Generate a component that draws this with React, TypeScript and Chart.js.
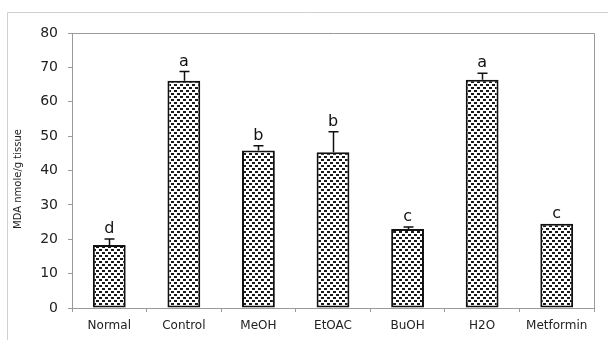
import React, { useEffect, useRef } from 'react';
import { Chart, registerables } from 'chart.js';

Chart.register(...registerables);

const categories = ['Normal', 'Control', 'MeOH', 'EtOAC', 'BuOH', 'H2O', 'Metformin'];
const means = [18.3, 66.1, 45.8, 45.3, 23.0, 66.4, 24.5];
const errors = [1.8, 2.7, 1.4, 6.0, 0.6, 1.9, 0];
const letters = ['d', 'a', 'b', 'b', 'c', 'a', 'c'];
const yTitle = 'MDA nmole/g tissue';

const FONT = "'DejaVu Sans', sans-serif";

function makePattern(): CanvasPattern | string {
  const c = document.createElement('canvas');
  c.width = 6;
  c.height = 6;
  const x = c.getContext('2d');
  if (!x) return '#888';
  x.fillStyle = '#ffffff';
  x.fillRect(0, 0, 6, 6);
  x.fillStyle = '#1a1a1a';
  x.fillRect(0, 0, 3, 2);
  x.fillRect(3, 3, 3, 2);
  const ctx = document.createElement('canvas').getContext('2d');
  const p = ctx ? ctx.createPattern(c, 'repeat') : null;
  return p || '#888';
}

const framePlugin = {
  id: 'frame',
  beforeDraw(chart: any) {
    const { ctx } = chart;
    ctx.save();
    ctx.fillStyle = '#ffffff';
    ctx.fillRect(0, 0, chart.width, chart.height);
    ctx.strokeStyle = '#d0d0d0';
    ctx.lineWidth = 1;
    ctx.beginPath();
    ctx.moveTo(7.5, chart.height);
    ctx.lineTo(7.5, 12.5);
    ctx.lineTo(chart.width, 12.5);
    ctx.stroke();
    ctx.restore();
  },
  afterDraw(chart: any) {
    const { ctx, chartArea } = chart;
    ctx.save();
    ctx.strokeStyle = '#9a9a9a';
    ctx.lineWidth = 1;
    ctx.beginPath();
    ctx.moveTo(Math.round(chartArea.left) + 0.5, Math.round(chartArea.top) + 0.5);
    ctx.lineTo(Math.round(chartArea.right) + 0.5, Math.round(chartArea.top) + 0.5);
    ctx.lineTo(Math.round(chartArea.right) + 0.5, Math.round(chartArea.bottom) + 0.5);
    ctx.stroke();
    // y title
    ctx.translate(18, 179);
    ctx.rotate(-Math.PI / 2);
    ctx.fillStyle = '#222';
    ctx.font = `10px ${FONT}`;
    ctx.textAlign = 'center';
    ctx.textBaseline = 'middle';
    ctx.fillText(yTitle, 0, 0);
    ctx.restore();
  },
};

const errorPlugin = {
  id: 'errbars',
  afterDatasetsDraw(chart: any) {
    const { ctx } = chart;
    const meta = chart.getDatasetMeta(0);
    const y = chart.scales.y;
    ctx.save();
    meta.data.forEach((bar: any, i: number) => {
      const x = Math.round(bar.x) + 0.5;
      const top = y.getPixelForValue(means[i] + errors[i]);
      const base = y.getPixelForValue(means[i]);
      if (errors[i] > 0) {
        ctx.strokeStyle = '#111';
        ctx.lineWidth = 1.5;
        ctx.beginPath();
        ctx.moveTo(x, base);
        ctx.lineTo(x, top);
        ctx.moveTo(x - 5, top);
        ctx.lineTo(x + 5, top);
        ctx.stroke();
      }
      ctx.fillStyle = '#111';
      ctx.font = `16px ${FONT}`;
      ctx.textAlign = 'center';
      ctx.textBaseline = 'alphabetic';
      ctx.fillText(letters[i], bar.x, top - 6);
    });
    ctx.restore();
  },
};

export default function App() {
  const ref = useRef<HTMLCanvasElement | null>(null);
  useEffect(() => {
    if (!ref.current) return;
    const pattern = makePattern();
    const chart = new Chart(ref.current, {
      type: 'bar',
      data: {
        labels: categories,
        datasets: [
          {
            data: means,
            backgroundColor: pattern as any,
            borderColor: '#111',
            borderWidth: 2,
            borderSkipped: false,
            categoryPercentage: 1,
            barPercentage: 0.44,
          },
        ],
      },
      options: {
        responsive: false,
        animation: false,
        events: [],
        layout: { padding: { top: 33, right: 14, left: 0, bottom: 0 } },
        plugins: { legend: { display: false }, tooltip: { enabled: false } },
        scales: {
          x: {
            grid: {
              display: true,
              drawOnChartArea: false,
              drawTicks: true,
              tickLength: 4,
              color: '#9a9a9a',
              offset: true,
            },
            border: { color: '#9a9a9a', width: 1 },
            ticks: { color: '#222', font: { family: FONT, size: 12 }, padding: 7, maxRotation: 0 },
            afterFit(scale: any) {
              scale.height = 32;
            },
          },
          y: {
            min: 0,
            max: 80,
            grid: {
              display: true,
              drawOnChartArea: false,
              drawTicks: true,
              tickLength: 4,
              color: '#9a9a9a',
            },
            border: { color: '#9a9a9a', width: 1 },
            ticks: { stepSize: 10, color: '#222', font: { family: FONT, size: 14 }, padding: 10 },
            afterFit(scale: any) {
              scale.width = 72;
            },
          },
        },
      },
      plugins: [framePlugin, errorPlugin],
    });
    return () => chart.destroy();
  }, []);
  return (
    <div style={{ position: 'fixed', left: 0, top: 0, width: 608, height: 340, background: '#fff' }}>
      <canvas ref={ref} width={608} height={340} style={{ display: 'block' }} />
    </div>
  );
}
